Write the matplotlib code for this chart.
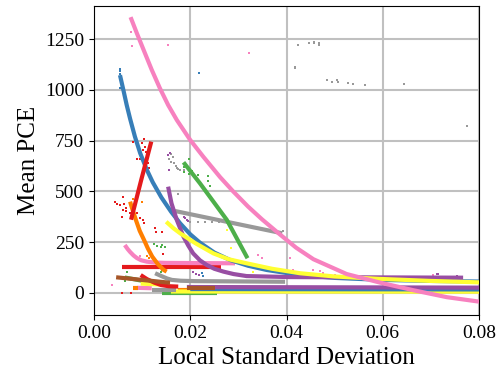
import matplotlib
matplotlib.use("Agg")
import matplotlib.pyplot as plt

RED = "#e41a1c"
BLUE = "#377eb8"
GREEN = "#4daf4a"
PURPLE = "#984ea3"
ORANGE = "#ff7f00"
YELLOW = "#ffff33"
BROWN = "#a65628"
PINK = "#f781bf"
GRAY = "#999999"

# ---- fitted curves ----
pink_fit_x = [0.0076, 0.0089, 0.0103, 0.0120, 0.0137, 0.0154, 0.0172, 0.0200, 0.0227, 0.0262,
              0.0289, 0.0320, 0.0349, 0.0386, 0.0420, 0.0456, 0.0525, 0.0594, 0.0664, 0.0733, 0.0800]
pink_fit_y = [1359, 1280, 1198, 1099, 1008, 926, 852, 753, 671, 570,
              500, 425, 362, 288, 222, 165, 92, 50, 12, -22, -44]

blue_fit_x = [0.0054, 0.0061, 0.0068, 0.0075, 0.0085, 0.0096, 0.0110, 0.0122, 0.0140, 0.0160,
              0.0179, 0.0200, 0.0220, 0.0250, 0.0283, 0.0320, 0.0359, 0.0428, 0.0500, 0.0600,
              0.0700, 0.0800]
blue_fit_y = [1073, 1000, 925, 858, 770, 688, 605, 545, 470, 400,
              342, 288, 247, 198, 161, 133, 112, 87, 73, 63,
              58, 55]

red_fit_x = [0.0077, 0.0098, 0.0119]
red_fit_y = [360, 555, 745]

orange_fit_x = [0.0075, 0.0080, 0.0087, 0.0095, 0.0104, 0.0112, 0.0121, 0.0133, 0.0145, 0.0151]
orange_fit_y = [449, 410, 359, 305, 260, 218, 178, 140, 112, 104]

green_fit_x = [0.0186, 0.0220, 0.0276, 0.0319]
green_fit_y = [643, 540, 359, 170]

gray_fit_x = [0.0168, 0.0391]
gray_fit_y = [403, 293]

purple_fit_x = [0.0154, 0.0161, 0.0172, 0.0186, 0.0196, 0.0206, 0.0220, 0.0234, 0.0250, 0.0269,
                0.0290, 0.0317, 0.0407, 0.0767]
purple_fit_y = [523, 441, 359, 276, 232, 194, 160, 137, 118, 104,
                92, 82, 77, 74]

yellow_fit_x = [0.0150, 0.0165, 0.0179, 0.0210, 0.0248, 0.0280, 0.0317, 0.0370, 0.0428, 0.0500,
                0.0594, 0.0700, 0.0800]
yellow_fit_y = [350, 318, 293, 245, 194, 165, 145, 118, 96, 80,
                68, 58, 51]

pink2_fit_x = [0.0064, 0.0070, 0.0075, 0.0082, 0.0089, 0.0098, 0.0110, 0.0125, 0.0148, 0.0293]
pink2_fit_y = [235, 215, 201, 184, 171, 160, 153, 149, 147, 145]

red2_fit_x = [0.0058, 0.0263]
red2_fit_y = [125, 125]

brown_fit_x = [0.0046, 0.0158]
brown_fit_y = [76, 49]

gray2_fit_x = [0.0127, 0.0140, 0.0152, 0.0162, 0.0180, 0.0210, 0.0397]
gray2_fit_y = [96, 82, 70, 63, 59, 57, 54]

green2_fit_x = [0.0064, 0.0115]
green2_fit_y = [75, 52]

yellow2_fit_x = [0.0097, 0.0158]
yellow2_fit_y = [45, 38]

red3_fit_x = [0.0097, 0.0110, 0.0125, 0.0139, 0.0155, 0.0175]
red3_fit_y = [87, 67, 50, 38, 32, 30]

purple2_fit_x = [0.0193, 0.0800]
purple2_fit_y = [28, 25]

blue2_fit_x = [0.0200, 0.0800]
blue2_fit_y = [18, 16]

brown2_fit_x = [0.0193, 0.0252]
brown2_fit_y = [22, 22]

pink3_fit_x = [0.0090, 0.0120]
pink3_fit_y = [24, 22]

gray3_fit_x = [0.0120, 0.0170]
gray3_fit_y = [13, 13]

orange2_fit_x = [0.0175, 0.0520]
orange2_fit_y = [11, 11]

orange3_fit_x = [0.0082, 0.0092]
orange3_fit_y = [22, 22]

yellow3_fit_x = [0.0160, 0.0800]
yellow3_fit_y = [6, 5]

green3_fit_x = [0.0141, 0.0255]
green3_fit_y = [-3, -3]

# ---- measured points ----
pink_pts_x = [0.0076, 0.0078, 0.0153, 0.0322, 0.0096, 0.0037, 0.0341, 0.0349, 0.0407,
              0.0414, 0.0456, 0.0470, 0.0475, 0.0480, 0.0490, 0.0500, 0.0705, 0.0712]
pink_pts_y = [1288, 1217, 1224, 1184, 181, 38, 186, 173, 170,
              112, 112, 109, 97, 87, 87, 87, 87, 91]

blue_pts_x = [0.0055, 0.0055, 0.0054, 0.0055, 0.0218, 0.0224, 0.0226, 0.0747]
blue_pts_y = [1104, 1091, 1080, 1008, 1084, 96, 84, 63]

red_pts_x = [0.0103, 0.0081, 0.0099, 0.0106, 0.0101, 0.0108, 0.0089, 0.0096, 0.0113, 0.0114,
             0.0060, 0.0044, 0.0047, 0.0055, 0.0063, 0.0066, 0.0061, 0.0067, 0.0075, 0.0058,
             0.0078, 0.0089, 0.0096, 0.0102, 0.0104, 0.0127, 0.0129, 0.0141, 0.0144, 0.0058, 0.0076]
red_pts_y = [758, 742, 737, 720, 705, 696, 658, 660, 638, 617,
             474, 446, 437, 433, 436, 419, 408, 403, 392, 375,
             375, 392, 367, 359, 342, 318, 301, 301, 191, 0, 0]

green_pts_x = [0.0197, 0.0187, 0.0186, 0.0197, 0.0204, 0.0216, 0.0236, 0.0236, 0.0240,
               0.0125, 0.0130, 0.0142, 0.0148, 0.0140, 0.0069, 0.0064, 0.0139, 0.0142]
green_pts_y = [658, 619, 597, 584, 602, 581, 576, 551, 526,
               239, 230, 235, 227, 226, 101, 59, 104, 112]

gray_pts_x = [0.0159, 0.0164, 0.0156, 0.0161, 0.0166, 0.0170, 0.0173, 0.0179, 0.0188, 0.0175,
              0.0200, 0.0217, 0.0231, 0.0245, 0.0259, 0.0175,
              0.0423, 0.0446, 0.0457, 0.0457, 0.0468, 0.0468, 0.0418, 0.0418,
              0.0484, 0.0494, 0.0504, 0.0508, 0.0527, 0.0538, 0.0563, 0.0645, 0.0776, 0.0392]
gray_pts_y = [683, 671, 658, 646, 638, 627, 614, 605, 605, 609,
              350, 350, 350, 350, 350, 487,
              1222, 1230, 1238, 1230, 1230, 1222, 1115, 1107,
              1049, 1041, 1049, 1041, 1033, 1030, 1023, 1030, 823, 305]

purple_pts_x = [0.0154, 0.0158, 0.0156, 0.0189, 0.0193, 0.0196, 0.0186, 0.0205, 0.0212,
                0.0218, 0.0712, 0.0715, 0.0754, 0.0764]
purple_pts_y = [679, 690, 605, 370, 359, 354, 372, 100, 92,
                85, 92, 94, 82, 74]

orange_pts_x = [0.0100, 0.0082, 0.0111, 0.0115, 0.0126]
orange_pts_y = [446, 462, 181, 170, 165]

yellow_pts_x = [0.0276, 0.0284, 0.0330]
yellow_pts_y = [309, 219, 100]

curves = [
    (GRAY, gray_fit_x, gray_fit_y),
    (GREEN, green3_fit_x, green3_fit_y),
    (ORANGE, orange2_fit_x, orange2_fit_y),
    (YELLOW, yellow3_fit_x, yellow3_fit_y),
    (BLUE, blue2_fit_x, blue2_fit_y),
    (PURPLE, purple2_fit_x, purple2_fit_y),
    (BROWN, brown2_fit_x, brown2_fit_y),
    (GRAY, gray3_fit_x, gray3_fit_y),
    (PINK, pink3_fit_x, pink3_fit_y),
    (ORANGE, orange3_fit_x, orange3_fit_y),
    (GREEN, green2_fit_x, green2_fit_y),
    (YELLOW, yellow2_fit_x, yellow2_fit_y),
    (RED, red3_fit_x, red3_fit_y),
    (GRAY, gray2_fit_x, gray2_fit_y),
    (BROWN, brown_fit_x, brown_fit_y),
    (RED, red2_fit_x, red2_fit_y),
    (PINK, pink2_fit_x, pink2_fit_y),
    (BLUE, blue_fit_x, blue_fit_y),
    (PURPLE, purple_fit_x, purple_fit_y),
    (YELLOW, yellow_fit_x, yellow_fit_y),
    (GREEN, green_fit_x, green_fit_y),
    (ORANGE, orange_fit_x, orange_fit_y),
    (RED, red_fit_x, red_fit_y),
    (PINK, pink_fit_x, pink_fit_y),
]

points = [
    (PINK, pink_pts_x, pink_pts_y),
    (BLUE, blue_pts_x, blue_pts_y),
    (RED, red_pts_x, red_pts_y),
    (GREEN, green_pts_x, green_pts_y),
    (GRAY, gray_pts_x, gray_pts_y),
    (PURPLE, purple_pts_x, purple_pts_y),
    (ORANGE, orange_pts_x, orange_pts_y),
    (YELLOW, yellow_pts_x, yellow_pts_y),
]

plt.rcParams["font.family"] = ["Liberation Serif", "DejaVu Serif"]

fig = plt.figure(figsize=(5.04, 3.73), dpi=100)
ax = fig.add_axes([94 / 504, 1 - 315 / 373, 385 / 504, 309 / 373])

for color, xs, ys in points:
    ax.scatter(xs, ys, s=3, color=color, marker="s", linewidths=0, zorder=2)

for color, xs, ys in curves:
    ax.plot(xs, ys, color=color, lw=3, solid_capstyle="butt",
            solid_joinstyle="round", zorder=3)

ax.set_xlim(0, 0.08)
ax.set_ylim(-110, 1414)
ax.set_xticks([0, 0.02, 0.04, 0.06, 0.08])
ax.set_yticks([0, 250, 500, 750, 1000, 1250])
ax.grid(True, color="#c0c0c0", lw=1.5, zorder=0)
ax.set_axisbelow(True)
ax.tick_params(labelsize=14)
ax.set_xlabel("Local Standard Deviation", fontsize=18)
ax.set_ylabel("Mean PCE", fontsize=18)

fig.savefig("out.png", dpi=100)
